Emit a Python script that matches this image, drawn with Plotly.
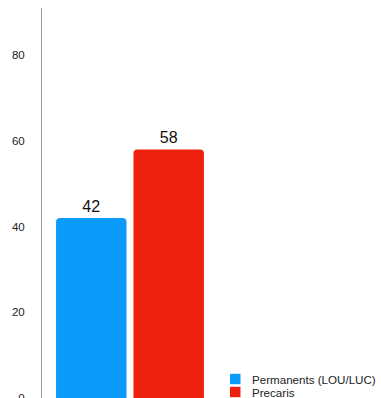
import plotly.graph_objects as go

categories = [""]
series_names = ["Permanents (LOU/LUC)", "Precaris"]
series_values = [[42], [58]]
colors = ["#0a9bfb", "#ee210e"]
y_ticks = [0, 20, 40, 60, 80]

W, H = 381, 398
ML, MR, MT, MB = 42, 163, 8, 0
PW, PH = W - ML - MR, H - MT - MB

def px_x(px):
    return (px - ML) / PW

def px_y(py):
    return (H - MB - py) / PH

fig = go.Figure()
for name, vals, col in zip(series_names, series_values, colors):
    fig.add_trace(go.Bar(
        x=categories, y=vals, name=name, marker_color=col,
        marker_line_width=0,
        text=[str(v) for v in vals], textposition="outside",
        textfont=dict(size=16, color="#111111"),
        cliponaxis=False, showlegend=False,
    ))

# manual legend (tight rows like the reference)
shapes, annotations = [], []
for i, (name, col) in enumerate(zip(series_names, colors)):
    cy = 379 + i * 13
    shapes.append(dict(type="rect", xref="paper", yref="paper",
                       x0=px_x(230), x1=px_x(240.5), y0=px_y(cy - 5.2), y1=px_y(cy + 5.2),
                       fillcolor=col, line_width=0, layer="above"))
    annotations.append(dict(xref="paper", yref="paper", x=px_x(249.5), y=px_y(cy),
                            xanchor="left", yanchor="middle", text=name, showarrow=False,
                            font=dict(size=11.6, color="#222222")))

fig.update_layout(
    width=W, height=H,
    margin=dict(l=ML, r=MR, t=MT, b=MB, autoexpand=False),
    paper_bgcolor="white", plot_bgcolor="white",
    barmode="group", bargap=0.12, bargroupgap=0.09,
    barcornerradius=4,
    font=dict(family="Liberation Sans, Arial, sans-serif", size=11, color="#222222"),
    showlegend=False,
    shapes=shapes, annotations=annotations,
    xaxis=dict(showticklabels=False, showgrid=False, zeroline=False, showline=False, ticks=""),
    yaxis=dict(range=[0, 91], tickvals=y_ticks, showgrid=False, zeroline=False,
               showline=True, linecolor="#999999", linewidth=1, ticks="",
               ticklabeloverflow="allow",
               ticklabelstandoff=14, tickfont=dict(size=11.5, color="#222222")),
)

fig.write_html("out.html")
